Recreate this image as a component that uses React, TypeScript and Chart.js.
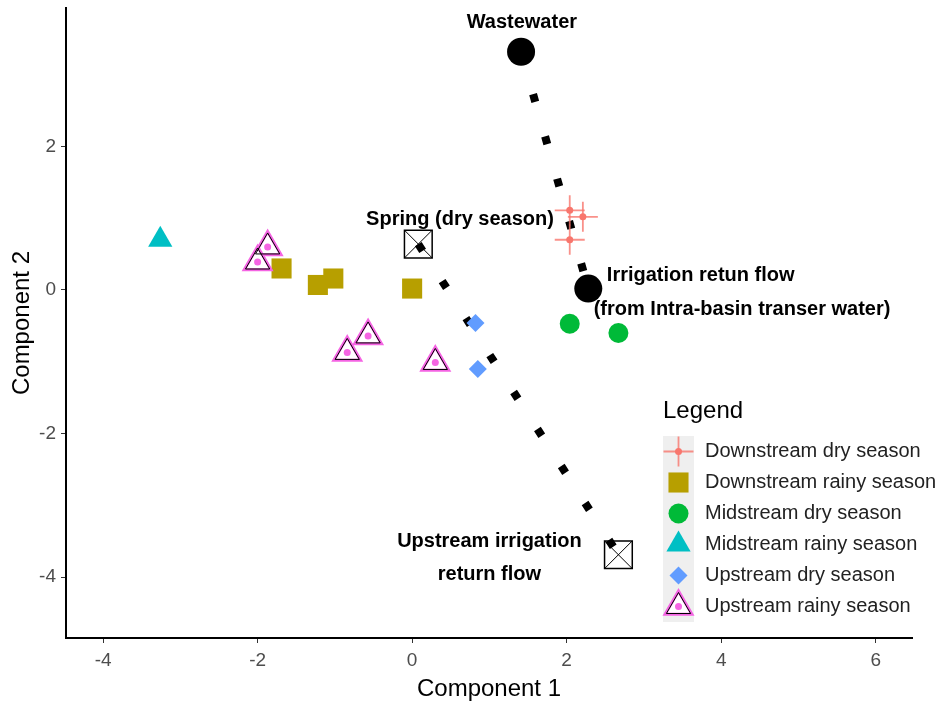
import React, { useEffect, useRef } from 'react';
import { Chart, registerables } from 'chart.js';
import { drawPoint } from 'chart.js/helpers';

Chart.register(...registerables);

const FONT = "'Liberation Sans', Arial, Helvetica, sans-serif";

// ---- axes ----
const xTickValues = [-4, -2, 0, 2, 4, 6];
const yTickValues = [-4, -2, 0, 2];
const xRange = [-4.48, 6.47];
const yRange = [-4.85, 3.93];
const xTitle = 'Component 1';
const yTitle = 'Component 2';

// ---- sample groups (Component 1, Component 2) ----
const downstreamDry = [
  { x: 2.04, y: 1.11 },
  { x: 2.21, y: 1.02 },
  { x: 2.04, y: 0.7 },
];
const downstreamRainy = [
  { x: -1.69, y: 0.3 },
  { x: -1.22, y: 0.07 },
  { x: -1.02, y: 0.16 },
  { x: 0.0, y: 0.02 },
];
const midstreamDry = [
  { x: 2.04, y: -0.47 },
  { x: 2.67, y: -0.6 },
];
const midstreamRainy = [{ x: -3.26, y: 0.7 }];
const upstreamDry = [
  { x: 0.82, y: -0.46 },
  { x: 0.85, y: -1.1 },
];
const upstreamRainy = [
  { x: -1.87, y: 0.6 },
  { x: -2.0, y: 0.39 },
  { x: -0.57, y: -0.64 },
  { x: -0.84, y: -0.87 },
  { x: 0.3, y: -1.01 },
];

// ---- end members ----
const circleEndMembers = [
  { x: 1.41, y: 3.32 }, // Wastewater
  { x: 2.28, y: 0.02 }, // Irrigation return flow
];
const boxEndMembers = [
  { x: 0.08, y: 0.64 }, // Spring (dry season)
  { x: 2.67, y: -3.69 }, // Upstream irrigation return flow
];
const mixingLineA = [circleEndMembers[0], circleEndMembers[1]];
const mixingLineB = [boxEndMembers[0], boxEndMembers[1]];

// ---- annotations (anchored in data units) ----
const annotationLabels = [
  { text: 'Wastewater', x: 1.42, y: 3.73, align: 'center' },
  { text: 'Spring (dry season)', x: 0.62, y: 0.98, align: 'center' },
  { text: 'Irrigation retun flow', x: 2.52, y: 0.2, align: 'left' },
  { text: '(from Intra-basin transer water)', x: 2.35, y: -0.265, align: 'left' },
  { text: 'Upstream irrigation', x: 1.0, y: -3.51, align: 'center' },
  { text: 'return flow', x: 1.0, y: -3.97, align: 'center' },
];

const legendTitle = 'Legend';
const CLEAR = 'rgba(0,0,0,0)';

type Layer = { style: string; radius: number; fill: string; stroke: string; width: number };

const series: { label: string; data: { x: number; y: number }[]; layers: Layer[] }[] = [
  {
    label: 'Downstream dry season',
    data: downstreamDry,
    layers: [
      { style: 'cross', radius: 15, fill: CLEAR, stroke: 'rgba(248,118,109,0.8)', width: 1.8 },
      { style: 'circle', radius: 3.5, fill: '#F8766D', stroke: '#F8766D', width: 0 },
    ],
  },
  {
    label: 'Downstream rainy season',
    data: downstreamRainy,
    layers: [{ style: 'rect', radius: 14.2, fill: '#B79F00', stroke: '#B79F00', width: 0 }],
  },
  {
    label: 'Midstream dry season',
    data: midstreamDry,
    layers: [{ style: 'circle', radius: 10, fill: '#00BA38', stroke: '#00BA38', width: 0 }],
  },
  {
    label: 'Midstream rainy season',
    data: midstreamRainy,
    layers: [{ style: 'triangle', radius: 14, fill: '#00BFC4', stroke: '#00BFC4', width: 0 }],
  },
  {
    label: 'Upstream dry season',
    data: upstreamDry,
    layers: [{ style: 'rectRot', radius: 9, fill: '#619CFF', stroke: '#619CFF', width: 0 }],
  },
  {
    label: 'Upstream rainy season',
    data: upstreamRainy,
    layers: [
      { style: 'triangle', radius: 15.5, fill: '#FFFFFF', stroke: '#F564E3', width: 3 },
      { style: 'triangle', radius: 14, fill: CLEAR, stroke: '#000000', width: 1 },
      { style: 'circle', radius: 3.5, fill: '#F564E3', stroke: '#F564E3', width: 0 },
    ],
  },
];

const endMemberLayers: { data: { x: number; y: number }[]; layers: Layer[] }[] = [
  {
    data: circleEndMembers,
    layers: [{ style: 'circle', radius: 14, fill: '#000000', stroke: '#000000', width: 0 }],
  },
  {
    data: boxEndMembers,
    layers: [
      { style: 'rect', radius: 19.6, fill: CLEAR, stroke: '#000000', width: 1.5 },
      { style: 'crossRot', radius: 19.6, fill: CLEAR, stroke: '#000000', width: 1 },
    ],
  },
];

function layerDataset(data: any[], l: Layer) {
  return {
    type: 'scatter',
    data,
    showLine: false,
    pointStyle: l.style,
    pointRadius: l.radius,
    pointHoverRadius: l.radius,
    pointBackgroundColor: l.fill,
    pointBorderColor: l.stroke,
    pointBorderWidth: l.width,
  };
}

function lineDataset(data: any[]) {
  return {
    type: 'scatter',
    data,
    showLine: true,
    borderColor: '#000000',
    borderWidth: 8,
    borderDash: [8, 36],
    borderCapStyle: 'butt',
    pointRadius: 0,
    pointHoverRadius: 0,
    fill: false,
  };
}

const overlayPlugin = {
  id: 'overlayTextAndLegend',
  afterDatasetsDraw(chart: any) {
    const { ctx, chartArea } = chart;
    const xs = chart.scales.x;
    const ys = chart.scales.y;
    ctx.save();

    // annotations
    ctx.font = `bold 20px ${FONT}`;
    ctx.fillStyle = '#000';
    ctx.textBaseline = 'middle';
    annotationLabels.forEach((a) => {
      ctx.textAlign = a.align;
      ctx.fillText(a.text, xs.getPixelForValue(a.x), ys.getPixelForValue(a.y));
    });

    // legend
    const left = chartArea.left + 597;
    const titleY = chartArea.top + 403;
    const keySize = 31;
    const keysTop = chartArea.top + 428;
    ctx.textAlign = 'left';
    ctx.font = `24px ${FONT}`;
    ctx.fillStyle = '#000';
    ctx.fillText(legendTitle, left, titleY);

    ctx.fillStyle = '#EFEFEF';
    ctx.fillRect(left, keysTop, keySize, keySize * series.length);

    series.forEach((s, i) => {
      const cx = left + keySize / 2;
      const cy = keysTop + keySize * i + keySize / 2;
      s.layers.forEach((l) => {
        ctx.fillStyle = l.fill;
        ctx.strokeStyle = l.stroke;
        ctx.lineWidth = l.width;
        drawPoint(ctx, { pointStyle: l.style as any, radius: l.radius, borderWidth: l.width, rotation: 0 }, cx, cy);
      });
      ctx.font = `20px ${FONT}`;
      ctx.fillStyle = '#222';
      ctx.fillText(s.label, left + 42, cy);
    });

    ctx.restore();
  },
};

export default function App() {
  const ref = useRef<HTMLCanvasElement | null>(null);

  useEffect(() => {
    document.body.style.margin = '0';
    Chart.defaults.font.family = FONT;
    const canvas = ref.current;
    if (!canvas) return;

    // datasets listed bottom-to-top, then reversed (Chart.js draws index 0 last)
    const drawList: any[] = [lineDataset(mixingLineA), lineDataset(mixingLineB)];
    series.forEach((s) => s.layers.forEach((l) => drawList.push(layerDataset(s.data, l))));
    endMemberLayers.forEach((e) => e.layers.forEach((l) => drawList.push(layerDataset(e.data, l))));
    const datasets = drawList.slice().reverse();

    const chart = new Chart(canvas, {
      type: 'scatter',
      data: { datasets },
      options: {
        animation: false,
        responsive: false,
        events: [],
        layout: { autoPadding: false, padding: { top: 8, right: 27, left: 0, bottom: 0 } },
        plugins: { legend: { display: false }, tooltip: { enabled: false } },
        scales: {
          x: {
            type: 'linear',
            min: xRange[0],
            max: xRange[1],
            afterFit: (s: any) => {
              s.height = 73;
              s.paddingLeft = 0;
              s.paddingRight = 0;
            },
            afterBuildTicks: (s: any) => {
              s.ticks = xTickValues.map((v) => ({ value: v }));
            },
            grid: { drawOnChartArea: false, drawTicks: true, tickLength: 5, color: '#333', lineWidth: 1 },
            border: { display: true, color: '#000', width: 2 },
            ticks: { color: '#4D4D4D', font: { size: 19 }, padding: 6, maxRotation: 0 },
            title: { display: true, text: xTitle, color: '#000', font: { size: 24 }, padding: { top: 0, bottom: 7 } },
          },
          y: {
            type: 'linear',
            min: yRange[0],
            max: yRange[1],
            afterFit: (s: any) => {
              s.width = 66;
              s.paddingTop = 0;
              s.paddingBottom = 0;
            },
            afterBuildTicks: (s: any) => {
              s.ticks = yTickValues.map((v) => ({ value: v }));
            },
            grid: { drawOnChartArea: false, drawTicks: true, tickLength: 5, color: '#333', lineWidth: 1 },
            border: { display: true, color: '#000', width: 2 },
            ticks: { color: '#4D4D4D', font: { size: 19 }, padding: 5 },
            title: { display: true, text: yTitle, color: '#000', font: { size: 24 }, padding: { top: 8, bottom: 0 } },
          },
        },
      },
      plugins: [overlayPlugin],
    } as any);

    return () => chart.destroy();
  }, []);

  return <canvas ref={ref} width={939} height={711} style={{ display: 'block', width: '939px', height: '711px' }} />;
}
